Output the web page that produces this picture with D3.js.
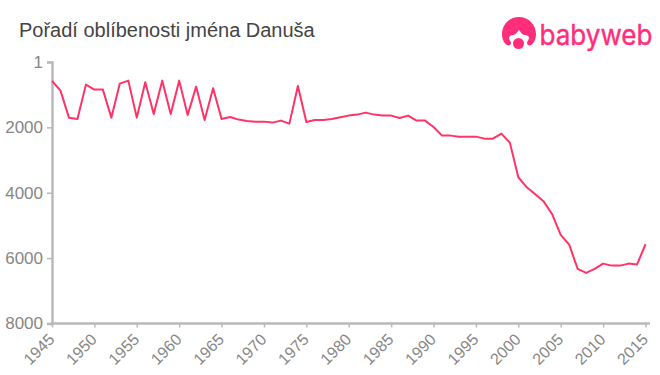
<!DOCTYPE html>
<html>
<head>
<meta charset="utf-8">
<script src="https://cdn.jsdelivr.net/npm/d3@7"></script>
<style>
  html, body { margin: 0; padding: 0; background: #fff; }
  text { font-family: "Liberation Sans", Arial, sans-serif; }
</style>
</head>
<body>
<svg id="chart" width="660" height="375"></svg>
<script>
const chartTitle = "Pořadí oblíbenosti jména Danuša";
const logoText = "babyweb";

const years = d3.range(1945, 2016);
const ranks = [
  580, 877, 1703, 1743, 693, 846, 846, 1703, 662, 571,
  1703, 622, 1590, 571, 1590, 571, 1620, 754, 1773, 805,
  1743, 1682, 1763, 1804, 1825, 1825, 1855, 1794, 1886, 733,
  1835, 1773, 1773, 1743, 1692, 1641, 1610, 1550, 1610, 1641,
  1641, 1712, 1641, 1794, 1794, 1988, 2253, 2253, 2284, 2284,
  2284, 2345, 2345, 2192, 2467, 3527, 3833, 4047, 4271, 4659,
  5290, 5587, 6330, 6452, 6330, 6168, 6229, 6229, 6168, 6198,
  5576
];
const yTicks = [1, 2000, 4000, 6000, 8000];
const xTicks = d3.range(1945, 2016, 5);

const lineColor = "#ff3366";
const axisColor = "#b9b9b9";
const labelColor = "#868686";

const svg = d3.select("#chart");

const x = d3.scaleLinear().domain([1945, 2015]).range([52, 645.5]);
const y = d3.scaleLinear().domain([1, 8000]).range([62, 323.5]);

svg.append("text")
  .attr("x", 19).attr("y", 37)
  .attr("font-size", 20)
  .attr("fill", "#444")
  .text(chartTitle);

// axes
const yAxis = svg.append("g")
  .attr("transform", "translate(52,0)")
  .call(d3.axisLeft(y).tickValues(yTicks).tickFormat(d3.format("d")).tickSize(5).tickPadding(4));

const xAxis = svg.append("g")
  .attr("transform", "translate(0,323.5)")
  .call(d3.axisBottom(x).tickValues(xTicks).tickFormat(d3.format("d")).tickSize(4));

// the baseline runs a little past the last tick
xAxis.select(".domain").attr("d", "M50.5,0H650");

for (let a of [xAxis, yAxis]) {
  a.selectAll(".domain").attr("stroke", axisColor).attr("stroke-width", 2.5);
  a.selectAll(".tick line").attr("stroke", axisColor).attr("stroke-width", 1.5);
  a.selectAll("text").attr("fill", labelColor).attr("font-size", 17);
}

xAxis.selectAll("text")
  .attr("font-size", 16)
  .attr("text-anchor", "end")
  .attr("dx", 0).attr("dy", 0)
  .attr("transform", "translate(3,17) rotate(-45)")
  .attr("y", 0).attr("x", 0);

// series
const line = d3.line().x((d, i) => x(years[i])).y(d => y(d));

svg.append("path")
  .datum(ranks)
  .attr("fill", "none")
  .attr("stroke", lineColor)
  .attr("stroke-width", 2)
  .attr("stroke-linejoin", "round")
  .attr("d", line);

// logo
const logo = svg.append("g").attr("fill", "#ff2d7a");
logo.append("path")
  .attr("d", "M519 17 C509 17 502 25 502 34 C502 39 504 43 507 45 C509 46 511 45 511 43 C511 41 509 40 509 38 C509 36 511 35 513 35 C516 35 517 32 519 30 C521 32 522 35 525 35 C527 35 529 36 529 38 C529 40 527 41 527 43 C527 45 529 46 531 45 C534 43 536 39 536 34 C536 25 529 17 519 17 Z");
logo.append("circle").attr("cx", 518.5).attr("cy", 43.5).attr("r", 5.5);
logo.append("text")
  .attr("x", 539.5).attr("y", 44.5)
  .attr("font-size", 28)
  .attr("stroke", "#ff2d7a")
  .attr("stroke-width", 0.4)
  .style("font-family", "Inter, Lato, sans-serif")
  .attr("textLength", 113)
  .attr("lengthAdjust", "spacingAndGlyphs")
  .text(logoText);
</script>
</body>
</html>
